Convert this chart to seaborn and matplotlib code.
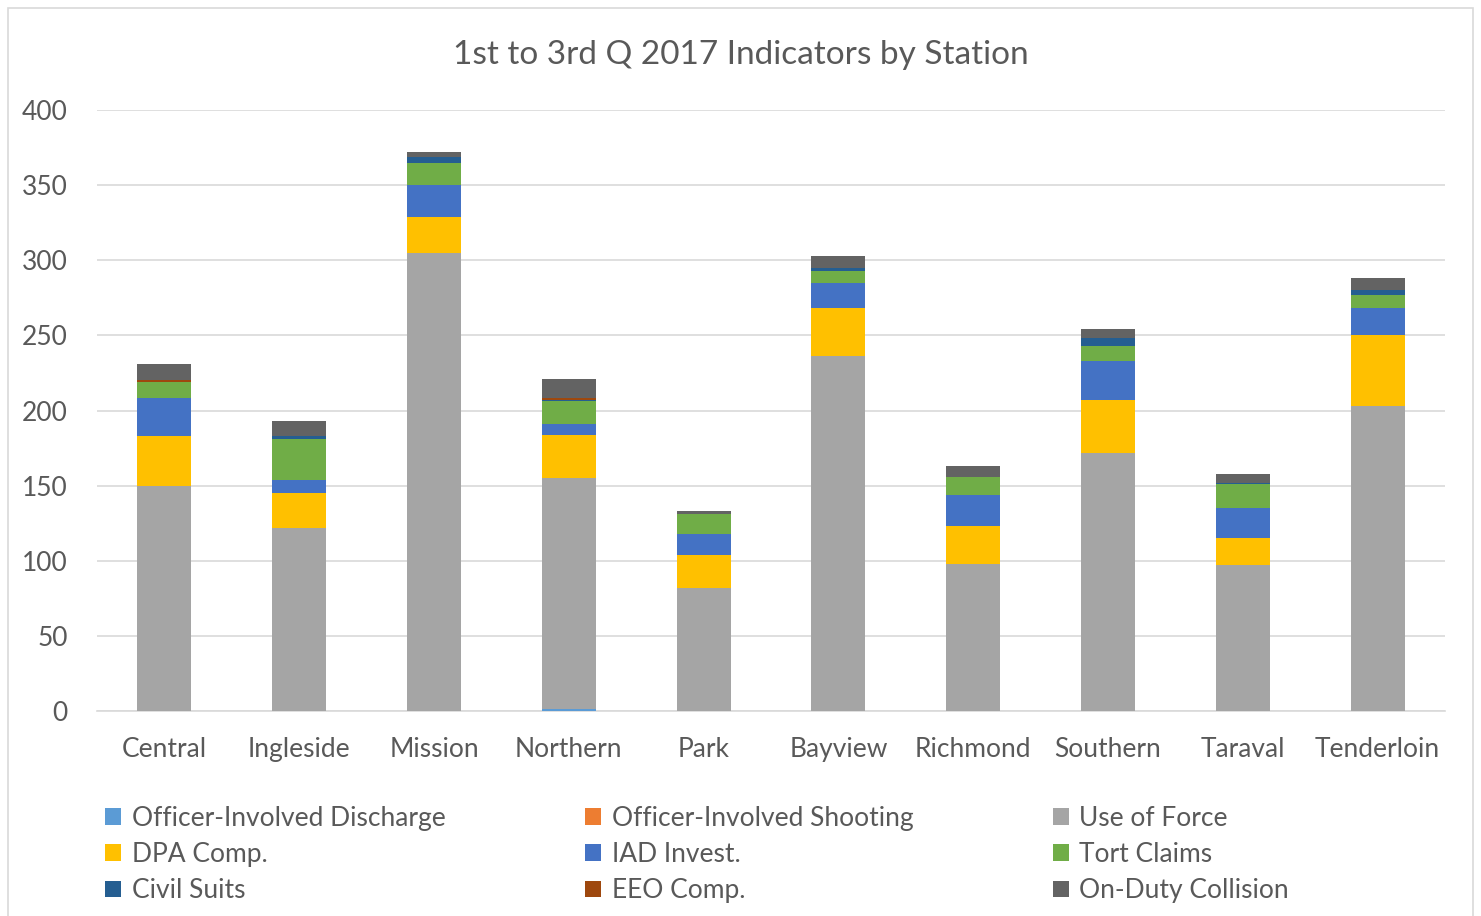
import numpy as np
import pandas as pd
import matplotlib
matplotlib.use("Agg")
import matplotlib.pyplot as plt
from matplotlib.patches import Patch, Rectangle
import seaborn as sns

stations = ["Central", "Ingleside", "Mission", "Northern", "Park",
            "Bayview", "Richmond", "Southern", "Taraval", "Tenderloin"]

officer_discharge = [0, 0, 0, 1, 0, 0, 0, 0, 0, 0]
officer_shooting  = [0, 0, 0, 0, 0, 0, 0, 0, 0, 0]
use_of_force      = [150, 122, 305, 154, 82, 236, 98, 172, 97, 203]
dpa_comp          = [33, 23, 24, 29, 22, 32, 25, 35, 18, 47]
iad_invest        = [25, 9, 21, 7, 14, 17, 21, 26, 20, 18]
tort_claims       = [11, 27, 15, 15, 13, 8, 12, 10, 16, 9]
civil_suits       = [0, 2, 4, 1, 0, 2, 0, 5, 1, 3]
eeo_comp          = [1, 0, 0, 1, 0, 0, 0, 0, 0, 0]
collision         = [11, 10, 3, 13, 2, 8, 7, 6, 6, 8]

series_names = ["Officer-Involved Discharge", "Officer-Involved Shooting", "Use of Force",
                "DPA Comp.", "IAD Invest.", "Tort Claims",
                "Civil Suits", "EEO Comp.", "On-Duty Collision"]
series_vals = [officer_discharge, officer_shooting, use_of_force,
               dpa_comp, iad_invest, tort_claims,
               civil_suits, eeo_comp, collision]
colors = ["#5B9BD5", "#ED7D31", "#A5A5A5", "#FFC000", "#4472C4",
          "#70AD47", "#255E91", "#9E480E", "#636363"]

sns.set_style("white")
plt.rcParams["font.family"] = ["Lato", "DejaVu Sans"]
text_color = "#595959"

fig = plt.figure(figsize=(14.81, 9.16), dpi=100)
ax = fig.add_axes([0.0655, 0.2238, 0.9102, 0.6561])

df = pd.DataFrame({"station": stations})
for name, vals in zip(series_names, series_vals):
    df[name] = vals
df["station"] = pd.Categorical(df["station"], categories=stations, ordered=True)

bottom = np.zeros(len(stations))
for name, col in zip(series_names, colors):
    sns.barplot(data=df, x="station", y=name, order=stations, color=col,
                width=0.4, bottom=bottom.copy(), errorbar=None,
                linewidth=0, ax=ax, zorder=3, saturation=1)
    bottom = bottom + df[name].values

ax.set_ylim(0, 400)
ax.set_xlim(-0.5, 9.5)
ax.set_yticks(np.arange(0, 401, 50))
ax.yaxis.grid(True, color="#D9D9D9", linewidth=1.2, zorder=0)
ax.set_axisbelow(True)
for s in ["top", "right", "left"]:
    ax.spines[s].set_visible(False)
ax.spines["bottom"].set_color("#D9D9D9")
ax.spines["bottom"].set_linewidth(1.2)
ax.set_xlabel("")
ax.set_ylabel("")
ax.tick_params(axis="both", length=0, labelsize=19, colors=text_color)
ax.tick_params(axis="x", pad=19)
ax.tick_params(axis="y", pad=21)
for lab in ax.get_yticklabels():
    lab.set_horizontalalignment("right")

fig.text(0.5, 0.94, "1st to 3rd Q 2017 Indicators by Station", ha="center",
         va="center", fontsize=24, color=text_color)

handles = [Patch(facecolor=c, edgecolor="none") for c in colors]
order = [0, 3, 6, 1, 4, 7, 2, 5, 8]
fig.legend([handles[i] for i in order], [series_names[i] for i in order],
           ncol=3, loc="upper left", bbox_to_anchor=(0.055, 0.146),
           frameon=False, fontsize=19, handlelength=0.6, handleheight=0.6,
           handletextpad=0.4, columnspacing=5.3, labelspacing=0.42,
           labelcolor=text_color)

fig.patches.append(Rectangle((0.0054, -0.01), 0.989, 1.001, transform=fig.transFigure,
                             fill=False, edgecolor="#D9D9D9", linewidth=1.2))

fig.savefig("out.png", dpi=100, facecolor="white")
